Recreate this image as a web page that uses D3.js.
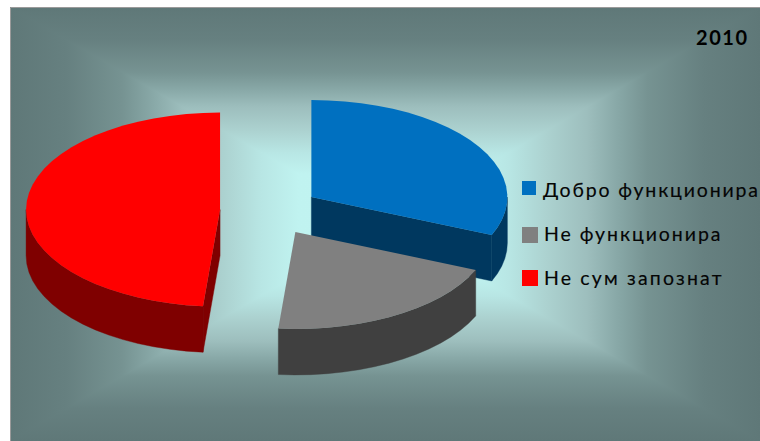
<!DOCTYPE html>
<html><head><meta charset="utf-8">
<script src="https://cdn.jsdelivr.net/npm/d3@7"></script>
<style>html,body{margin:0;padding:0;background:#fff}svg{display:block}</style>
</head><body><svg id="c" width="760" height="441"></svg>
<script>
const categories = ["Добро функционира", "Не функционира", "Не сум запознат"];
const values = [31.4, 20, 48.6];
const chartTitle = "2010";

const topColors = ["#0070C0", "#808080", "#FF0000"];
const sideColors = ["#00385F", "#404040", "#7F0000"];
const bgStops = [[0,"#C2F4F2"],[0.23,"#C0F3F0"],[0.33,"#B8E6E4"],[0.43,"#ACD2D0"],[0.54,"#9DBEBD"],[0.62,"#88A8A7"],[0.70,"#769392"],[0.85,"#668080"],[1,"#5F7878"]];

const frame = {x0:10, y0:7, x1:760, y1:441};
const geo = {cx:269.6, cy:210.7, rxL:194, rxR:196, ry:97, depth:46, explode:0.2555};

const svg = d3.select("#c");
const defs = svg.append("defs");
const mx = (frame.x0+frame.x1)/2, my = (frame.y0+frame.y1)/2;
const corners = {tl:[frame.x0,frame.y0],tr:[frame.x1,frame.y0],br:[frame.x1,frame.y1],bl:[frame.x0,frame.y1]};
const bgParts = [
  {id:"t",pts:[corners.tl,corners.tr],end:[mx,frame.y0]},
  {id:"r",pts:[corners.tr,corners.br],end:[frame.x1,my]},
  {id:"b",pts:[corners.br,corners.bl],end:[mx,frame.y1]},
  {id:"l",pts:[corners.bl,corners.tl],end:[frame.x0,my]}
];
bgParts.forEach(p=>{
  const g = defs.append("linearGradient").attr("id","bg"+p.id).attr("gradientUnits","userSpaceOnUse")
    .attr("x1",mx).attr("y1",my).attr("x2",p.end[0]).attr("y2",p.end[1]);
  bgStops.forEach(s=>g.append("stop").attr("offset",s[0]).attr("stop-color",s[1]));
  svg.append("polygon").attr("points",[[mx,my],...p.pts].map(q=>q.join(",")).join(" "))
    .attr("fill",`url(#bg${p.id})`).attr("shape-rendering","crispEdges");
});
svg.append("path").attr("d",`M${frame.x0+.5},${frame.y1}V${frame.y0+.5}H${frame.x1}`)
  .attr("fill","none").attr("stroke","#9a9a9a").attr("stroke-width",1);

const arcs = d3.pie().sort(null).startAngle(0).endAngle(2*Math.PI)(values);
const sx = d3.scaleLinear().domain([-1,0,1]).range([-geo.rxL,0,geo.rxR]);
const sy = d3.scaleLinear().domain([-1,1]).range([-geo.ry,geo.ry]);
const line = d3.line();
const STEP = 5*Math.PI/180;
function angles(a,b){const n=Math.max(1,Math.ceil((b-a)/STEP));return d3.range(n+1).map(i=>a+(b-a)*i/n);}

const slices = arcs.map((d,i)=>{
  const mid=(d.startAngle+d.endAngle)/2;
  return {i,a0:d.startAngle,a1:d.endAngle,
    cx:geo.cx+sx(geo.explode*Math.sin(mid)),
    cy:geo.cy+sy(-geo.explode*Math.cos(mid))};
});
const P=(s,a,dz=0)=>[s.cx+sx(Math.sin(a)),s.cy+sy(-Math.cos(a))+dz];

slices.forEach(s=>{
  const g = svg.append("g");
  const side = sideColors[s.i];
  [[s.a0,-1],[s.a1,1]].forEach(([a,sgn])=>{
    if(sgn*Math.sin(a)>1e-6){
      g.append("path").attr("fill",side).attr("stroke",side).attr("stroke-width",.4).attr("d",line([[s.cx,s.cy],P(s,a),P(s,a,geo.depth),[s.cx,s.cy+geo.depth]])+"Z");
    }
  });
  const lo=Math.max(s.a0,Math.PI/2), hi=Math.min(s.a1,3*Math.PI/2);
  if(hi>lo){
    const as=angles(lo,hi);
    g.append("path").attr("fill",side).attr("stroke",side).attr("stroke-width",.4)
      .attr("d",line([...as.map(a=>P(s,a)),...as.slice().reverse().map(a=>P(s,a,geo.depth))])+"Z");
  }
  g.append("path").attr("fill",topColors[s.i])
    .attr("d",line([[s.cx,s.cy],...angles(s.a0,s.a1).map(a=>P(s,a))])+"Z");
});

const legendFont = "Lato,'Open Sans',sans-serif";
const legendBase = [197,241,285];
const legendStart = [543,544,544];
const legendSw = [[522,181,14,14],[522,227,16,16],[522,270,16,16]];
const legendW = [215,176.5,177.5];
categories.forEach((c,i)=>{
  svg.append("rect").attr("x",legendSw[i][0]).attr("y",legendSw[i][1]).attr("width",legendSw[i][2]).attr("height",legendSw[i][3]).attr("fill",topColors[i]);
  svg.append("text").attr("x",legendStart[i]).attr("y",legendBase[i]).attr("font-family",legendFont).attr("font-size",19.5)
    .attr("fill","#050505").attr("stroke","#050505").attr("stroke-width",.15)
    .attr("textLength",legendW[i]).attr("lengthAdjust","spacing").text(c);
});
svg.append("text").attr("x",696).attr("y",45).attr("font-family",legendFont).attr("font-weight",700).attr("font-size",20)
  .attr("fill","#000").attr("textLength",51).text(chartTitle);
</script></body></html>
